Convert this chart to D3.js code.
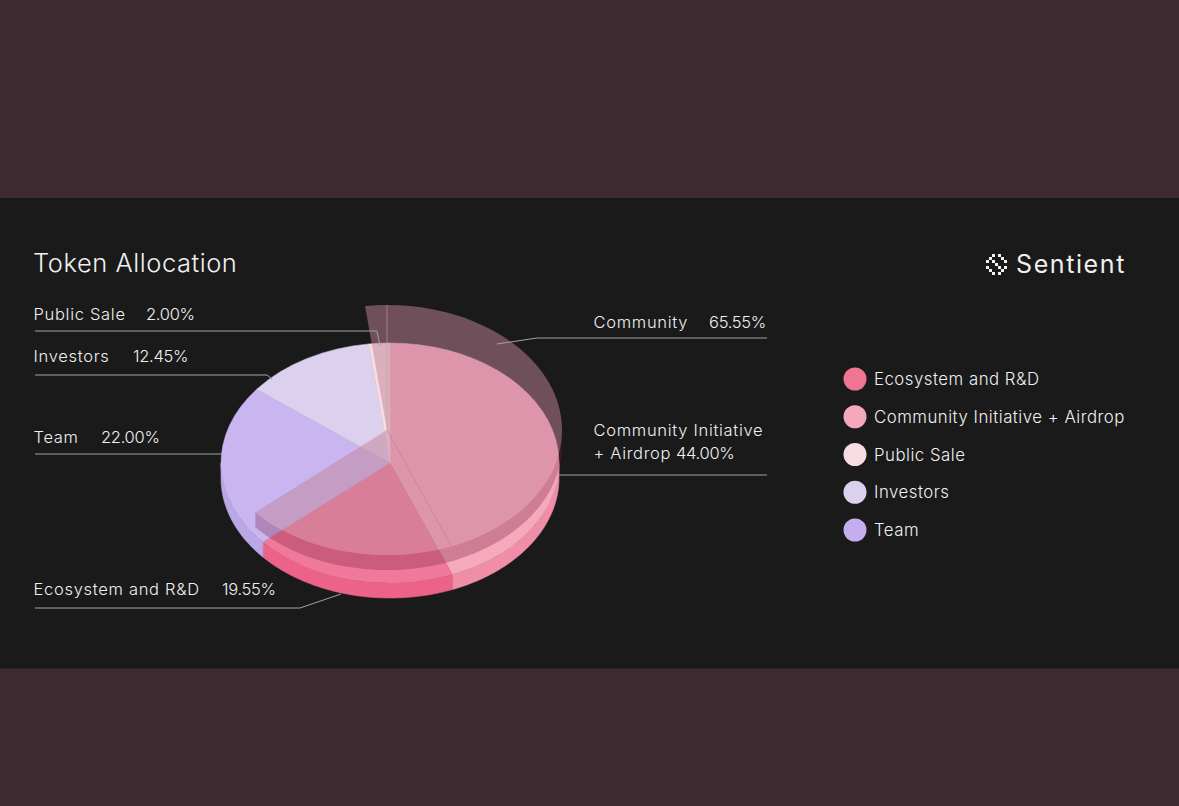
<!DOCTYPE html>
<html><head><meta charset="utf-8">
<script src="https://cdn.jsdelivr.net/npm/d3@7"></script>
<style>html,body{margin:0;padding:0;background:#3e2a31;overflow:hidden}svg{display:block}text{font-family:Inter,"Open Sans",sans-serif;font-weight:300;fill:#f0f0f0}</style>
</head><body><svg id="c" width="1179" height="806"></svg>
<script>
// Data
const categories = ["Community Initiative + Airdrop","Ecosystem and R&D","Team","Investors","Public Sale"];
const values = [44.00,19.55,22.00,12.45,2.00];
const topColors = ["#f6a8bd","#f0789a","#c9b5f0","#dcd0ef","#f7dde3"];
const sideColors = ["#f08ea8","#ec6288","#bba6e6","#cfc2e6","#eccfd6"];
const legendOrder = ["Ecosystem and R&D","Community Initiative + Airdrop","Public Sale","Investors","Team"];
const legendColors = ["#ef7595","#f3a8bc","#f7dde3","#dcd0ef","#c5aef0"];
const overlayValues = [2.00,44.00,19.55];
const overlayTotal = 65.55;

const svg = d3.select("#c");
svg.append("rect").attr("width",1179).attr("height",806).attr("fill","#3e2a31");
svg.append("rect").attr("y",198).attr("width",1179).attr("height",470.5).attr("fill","#1a1a1a");

const lower = {cx:390,cy:463,rx:169,ry:120,t:15};
const upper = {cx:387,cy:430,rx:175,ry:125,t:15};
const TAU = 2*Math.PI;

function sidePath(g,a0,a1){
  const s=Math.max(a0,Math.PI/2), e=Math.min(a1,3*Math.PI/2);
  if(e<=s) return null;
  const ang=d3.range(0,61).map(i=>s+(e-s)*i/60);
  const pts=ang.map(a=>[g.cx+g.rx*Math.sin(a),g.cy-g.ry*Math.cos(a)]);
  const bot=ang.slice().reverse().map(a=>[g.cx+g.rx*Math.sin(a),g.cy-g.ry*Math.cos(a)+g.t]);
  return d3.line()(pts.concat(bot))+"Z";
}
function face(g){
  return svg.append("g").attr("transform",`translate(${g.cx},${g.cy}) scale(1,${g.ry/g.rx})`);
}

// lower pie
const pie = d3.pie().sort(null).startAngle(0).endAngle(TAU);
const arcsLower = pie(values);
svg.append("g").selectAll("path").data(arcsLower).join("path")
  .attr("d",d=>sidePath(lower,d.startAngle,d.endAngle)).attr("fill",(d,i)=>sideColors[i])
  .attr("stroke",(d,i)=>sideColors[i]).attr("stroke-width",.6);
const arcL = d3.arc().innerRadius(0).outerRadius(lower.rx);
face(lower).selectAll("path").data(arcsLower).join("path").attr("d",arcL)
  .attr("fill",(d,i)=>topColors[i]).attr("stroke",(d,i)=>topColors[i]).attr("stroke-width",.6);

// raised translucent layer: Public Sale + Community Initiative + Ecosystem
const angleOf = d3.scaleLinear().domain([0,100]).range([0,TAU]);
const upStart = -angleOf(overlayValues[0]);
const upEnd = upStart + angleOf(overlayTotal);
const upperSide = sidePath(upper,upStart,upEnd);
svg.append("path").attr("d",upperSide).attr("fill","rgb(125,35,65)").attr("fill-opacity",.32);
const arcU = d3.arc().innerRadius(0).outerRadius(upper.rx);
face(upper).append("path").attr("d",arcU({startAngle:upStart,endAngle:upEnd}))
  .attr("fill","rgb(195,132,151)").attr("fill-opacity",.51);

// seams
const divA = angleOf(overlayValues[1]);
svg.append("line").attr("x1",upper.cx).attr("y1",upper.cy-upper.ry).attr("x2",upper.cx).attr("y2",upper.cy)
  .attr("stroke","#c99aa8").attr("stroke-opacity",.6).attr("stroke-width",1);
svg.append("line").attr("x1",upper.cx).attr("y1",upper.cy).attr("x2",lower.cx).attr("y2",lower.cy)
  .attr("stroke","#ecc0cc").attr("stroke-opacity",.4).attr("stroke-width",1);
svg.append("line").attr("x1",upper.cx).attr("y1",upper.cy)
  .attr("x2",upper.cx+upper.rx*Math.sin(divA)).attr("y2",upper.cy-upper.ry*Math.cos(divA))
  .attr("stroke","#c47f95").attr("stroke-opacity",.7).attr("stroke-width",1);

// leader lines
const leaders = [
 [[35,331],[377,331],[380,346]],
 [[35,375],[267,375],[272,379]],
 [[35,454],[221,454]],
 [[35,608],[300,608],[341,594]],
 [[497,344],[537,338],[767,338]],
 [[558,475],[767,475]]
];
svg.append("g").selectAll("path").data(leaders).join("path")
  .attr("d",d=>d3.line()(d)).attr("fill","none").attr("stroke","#a3a3a3").attr("stroke-width",1);

// labels
const labelRows = [
 {t:"Public Sale",v:"2.00%",x:33.5,vx:146,y:320},
 {t:"Investors",v:"12.45%",x:33.5,vx:133,y:362},
 {t:"Team",v:"22.00%",x:33.5,vx:101,y:443},
 {t:"Ecosystem and R&D",v:"19.55%",x:33.5,vx:222,y:595},
 {t:"Community",v:"65.55%",x:593.5,vx:709,y:328},
 {t:"Community Initiative",v:"",x:593.5,vx:0,y:436},
 {t:"+ Airdrop",v:"44.00%",x:593.5,vx:676,y:459}
];
const lab = svg.append("g").attr("font-size",16.5);
lab.selectAll("text.t").data(labelRows).join("text").attr("class","t").attr("x",d=>d.x).attr("y",d=>d.y)
  .attr("letter-spacing",.7).text(d=>d.t);
lab.selectAll("text.v").data(labelRows.filter(d=>d.v)).join("text").attr("class","v").attr("x",d=>d.vx).attr("y",d=>d.y)
  .attr("letter-spacing",-.3).text(d=>d.v);

svg.append("text").attr("x",33).attr("y",272).attr("font-size",25.5).attr("letter-spacing",.55).text("Token Allocation");

// legend
const ly = d3.scalePoint().domain(legendOrder).range([379,530]);
const leg = svg.append("g").selectAll("g").data(legendOrder).join("g");
leg.append("circle").attr("cx",855).attr("cy",d=>ly(d)).attr("r",11.5).attr("fill",(d,i)=>legendColors[i]);
leg.append("text").attr("x",874).attr("y",d=>ly(d)+6).attr("font-size",16.8).attr("letter-spacing",.5).text(d=>d);

// logo
const logoRows = ["..#.#..",".#...#.","#.#...#","...#...","#...#.#",".#...#.","..#.#.."];
const logo = svg.append("g").attr("fill","#f0f0f0");
logoRows.forEach((r,j)=>[...r].forEach((c,i)=>{ if(c==="#") logo.append("rect").attr("x",986+i*3).attr("y",254+j*3).attr("width",3).attr("height",3); }));
svg.append("text").attr("x",1016).attr("y",273).attr("font-size",25).attr("letter-spacing",1.6).style("font-weight",400).text("Sentient");
</script></body></html>
